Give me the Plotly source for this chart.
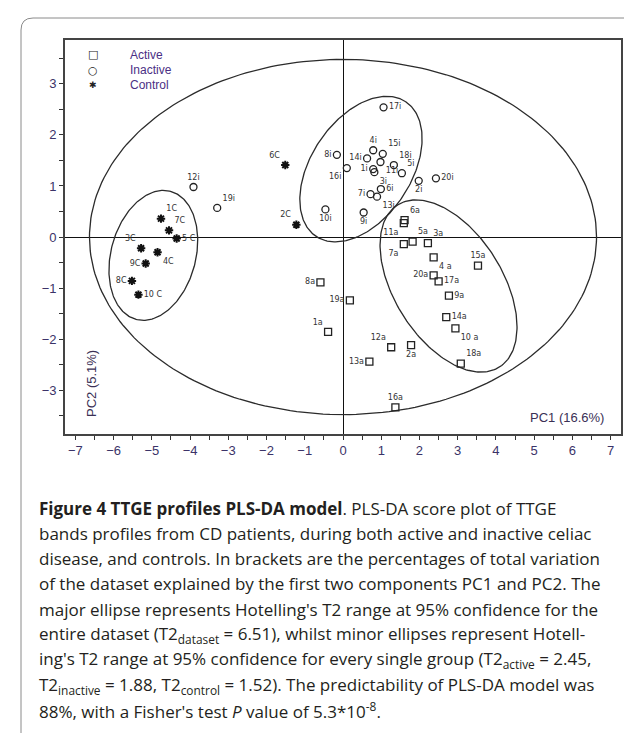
import numpy as np
import plotly.graph_objects as go

# PLS-DA scores (PC1, PC2)
active_labels = ["1a", "2a", "3a", "4 a", "5a", "6a", "7a", "8a", "9a", "10 a",
                 "11a", "12a", "13a", "14a", "15a", "16a", "17a", "18a", "19a", "20a"]
active_pc1 = [-0.39, 1.78, 2.22, 2.37, 1.82, 1.61, 1.59, -0.59, 2.77, 2.94,
              1.59, 1.26, 0.69, 2.70, 3.53, 1.37, 2.50, 3.08, 0.18, 2.37]
active_pc2 = [-1.86, -2.12, -0.12, -0.40, -0.09, 0.33, -0.14, -0.89, -1.15, -1.79,
              0.27, -2.16, -2.44, -1.57, -0.56, -3.34, -0.87, -2.48, -1.24, -0.75]

inactive_labels = ["1i", "2i", "3i", "4i", "5i", "6i", "7i", "8i", "9i", "10i",
                   "11i", "12i", "13i", "14i", "15i", "16i", "17i", "18i", "19i", "20i"]
inactive_pc1 = [0.79, 1.98, 0.82, 0.79, 1.54, 0.99, 0.72, -0.16, 0.54, -0.46,
                0.98, -3.91, 0.89, 0.63, 1.04, 0.10, 1.06, 1.33, -3.29, 2.43]
inactive_pc2 = [1.33, 1.10, 1.27, 1.70, 1.25, 0.94, 0.84, 1.61, 0.48, 0.54,
                1.47, 0.98, 0.79, 1.54, 1.63, 1.35, 2.54, 1.41, 0.57, 1.15]

control_labels = ["1C", "2C", "3C", "4C", "5 C", "6C", "7C", "8C", "9C", "10 C"]
control_pc1 = [-4.76, -1.22, -5.28, -4.85, -4.35, -1.51, -4.55, -5.52, -5.16, -5.35]
control_pc2 = [0.36, 0.24, -0.22, -0.30, -0.03, 1.41, 0.13, -0.86, -0.52, -1.13]

# Hotelling T2 ellipses: centre and two conjugate semi-axis vectors (data units)
ellipse_names = ["dataset", "inactive", "active", "control"]
ellipse_cx = [0.0, 0.47, 2.76, -4.96]
ellipse_cy = [0.0, 1.33, -0.96, -0.36]
ellipse_ux = [6.63, 1.17, -1.33, 0.45]
ellipse_uy = [0.0, 1.32, 1.59, 1.255]
ellipse_vx = [0.0, 1.09, 1.20, 1.07]
ellipse_vy = [3.48, -0.54, 0.565, -0.214]

x_ticks = list(range(-7, 8))
y_ticks = list(range(-3, 4))

legend_names = ["Active", "Inactive", "Control"]
legend_glyphs = ["\u25a1", "\u25cb", "\u2731"]

caption_lines = [
    "<b>Figure 4 TTGE profiles PLS-DA model</b>. PLS-DA score plot of TTGE",
    "bands profiles from CD patients, during both active and inactive celiac",
    "disease, and controls. In brackets are the percentages of total variation",
    "of the dataset explained by the first two components PC1 and PC2. The",
    "major ellipse represents Hotelling's T2 range at 95% confidence for the",
    "entire dataset (T2<sub>dataset</sub> = 6.51), whilst minor ellipses represent Hotell-",
    "ing's T2 range at 95% confidence for every single group (T2<sub>active</sub> = 2.45,",
    "T2<sub>inactive</sub> = 1.88, T2<sub>control</sub> = 1.52). The predictability of PLS-DA model was",
    "88%, with a Fisher's test <i>P</i> value of 5.3*10<sup>-8</sup>.",
]

# label placement around each marker
active_pos = ["top left", "bottom center", "top right", "bottom right", "top right",
              "top right", "bottom left", "middle left", "middle right", "bottom right",
              "bottom left", "top left", "middle left", "middle right", "top center",
              "top center", "middle right", "top right", "middle left", "middle left"]
inactive_pos = ["middle left", "bottom center", "bottom right", "top center", "top right",
                "middle right", "middle left", "middle left", "bottom center", "bottom center",
                "bottom right", "top center", "bottom right", "middle left", "top right",
                "bottom left", "middle right", "top right", "top right", "middle right"]
control_pos = ["top right", "top left", "top left", "bottom right", "middle right",
               "top left", "top right", "middle left", "middle left", "middle right"]

# layout: plot area in pixels
W, H = 632, 733
ML, MR, MT, MB = 57, 19, 32, 307
plot_w = W - ML - MR
plot_h = H - MT - MB
x_range = [-7.27, 7.27]
y_range = [-3.86, 3.86]


def px_to_paper(px):
    return (px - ML) / plot_w


def py_to_paper(py):
    return (H - MB - py) / plot_h


label_font = dict(family="DejaVu Sans", size=8, color="#333333")

fig = go.Figure()

t = np.linspace(0, 2 * np.pi, 241)
for i, name in enumerate(ellipse_names):
    ex = ellipse_cx[i] + ellipse_ux[i] * np.cos(t) + ellipse_vx[i] * np.sin(t)
    ey = ellipse_cy[i] + ellipse_uy[i] * np.cos(t) + ellipse_vy[i] * np.sin(t)
    fig.add_trace(go.Scatter(x=ex, y=ey, mode="lines", showlegend=False,
                             line=dict(color="#2b2b2b", width=1.3), hoverinfo="skip"))

fig.add_trace(go.Scatter(
    x=active_pc1, y=active_pc2, mode="markers+text", name="Active",
    text=active_labels, textposition=active_pos, textfont=label_font,
    marker=dict(symbol="square-open", size=7, color="#222222", line=dict(width=1.3))
))
fig.add_trace(go.Scatter(
    x=inactive_pc1, y=inactive_pc2, mode="markers+text", name="Inactive",
    text=inactive_labels, textposition=inactive_pos, textfont=label_font,
    marker=dict(symbol="circle-open", size=7, color="#222222", line=dict(width=1.3))
))
fig.add_trace(go.Scatter(
    x=control_pc1, y=control_pc2, mode="markers+text", name="Control",
    text=control_labels, textposition=control_pos, textfont=label_font,
    marker=dict(symbol="asterisk-open", size=7, color="#111111", line=dict(width=2))
))

axis_common = dict(
    showgrid=False, zeroline=True, zerolinecolor="#111111", zerolinewidth=1.3,
    showline=True, linecolor="#444444", linewidth=1.6, mirror=True,
    ticks="outside", ticklen=4, tickcolor="#333333",
    tickfont=dict(family="Liberation Sans", size=13, color="#3b3368"),
    minor=dict(dtick=0.5, ticks="outside", ticklen=4, tickcolor="#333333"),
)
# second set of axes only carries inward ticks, so the marks cross the frame
inner_ticks = dict(
    showgrid=False, zeroline=False, showline=False, showticklabels=False,
    ticks="inside", ticklen=3, tickcolor="#333333",
    minor=dict(dtick=0.5, ticks="inside", ticklen=3, tickcolor="#333333"),
)

fig.update_layout(
    xaxis=dict(range=x_range, tickvals=x_ticks, **axis_common),
    yaxis=dict(range=y_range, tickvals=y_ticks, **axis_common),
    xaxis2=dict(range=x_range, tickvals=x_ticks, overlaying="x", anchor="y2",
                side="bottom", **inner_ticks),
    yaxis2=dict(range=y_range, tickvals=y_ticks, overlaying="y", anchor="x2",
                side="left", **inner_ticks),
)

annotations = [
    dict(text="PC1 (16.6%)", xref="paper", yref="paper", x=px_to_paper(598),
         y=py_to_paper(409), xanchor="right", yanchor="middle", showarrow=False,
         font=dict(family="Liberation Sans", size=13, color="#3a3055")),
    dict(text="PC2 (5.1%)", xref="paper", yref="paper", x=px_to_paper(83),
         y=py_to_paper(376), xanchor="center", yanchor="middle", showarrow=False,
         textangle=-90, font=dict(family="Liberation Sans", size=13, color="#3a3055")),
]

# key in the top-left corner, drawn as text rows
for i, (glyph, name) in enumerate(zip(legend_glyphs, legend_names)):
    row_y = py_to_paper(47 + 15 * i)
    annotations.append(dict(
        text=glyph, xref="paper", yref="paper", x=px_to_paper(85), y=row_y,
        xanchor="center", yanchor="middle", showarrow=False,
        font=dict(family="DejaVu Sans", size=11 if i < 2 else 9, color="#222222")))
    annotations.append(dict(
        text=name, xref="paper", yref="paper", x=px_to_paper(120), y=row_y,
        xanchor="left", yanchor="middle", showarrow=False,
        font=dict(family="Liberation Sans", size=12, color="#4b2f84")))

for i, line in enumerate(caption_lines):
    annotations.append(dict(
        text=line, xref="paper", yref="paper", x=px_to_paper(29),
        y=py_to_paper(500 + 25.3 * i), xanchor="left", yanchor="middle",
        showarrow=False, font=dict(family="Open Sans", size=17, color="#231f20")))

# rounded outer frame round figure and caption
x0, x1 = px_to_paper(13), px_to_paper(631)
y0, y1 = py_to_paper(10), py_to_paper(745)
rx, ry = 12 / plot_w, 12 / plot_h
frame_path = (f"M {x0},{y1} L {x0},{y0 - ry} Q {x0},{y0} {x0 + rx},{y0} "
              f"L {x1 - rx},{y0} Q {x1},{y0} {x1},{y0 - ry} L {x1},{y1}")

fig.update_layout(
    width=W, height=H,
    margin=dict(l=ML, r=MR, t=MT, b=MB),
    plot_bgcolor="white", paper_bgcolor="white",
    showlegend=False,
    annotations=annotations,
    shapes=[dict(type="path", path=frame_path, xref="paper", yref="paper",
                 line=dict(color="#8a8a8a", width=1))],
)

fig.write_html("out.html")
